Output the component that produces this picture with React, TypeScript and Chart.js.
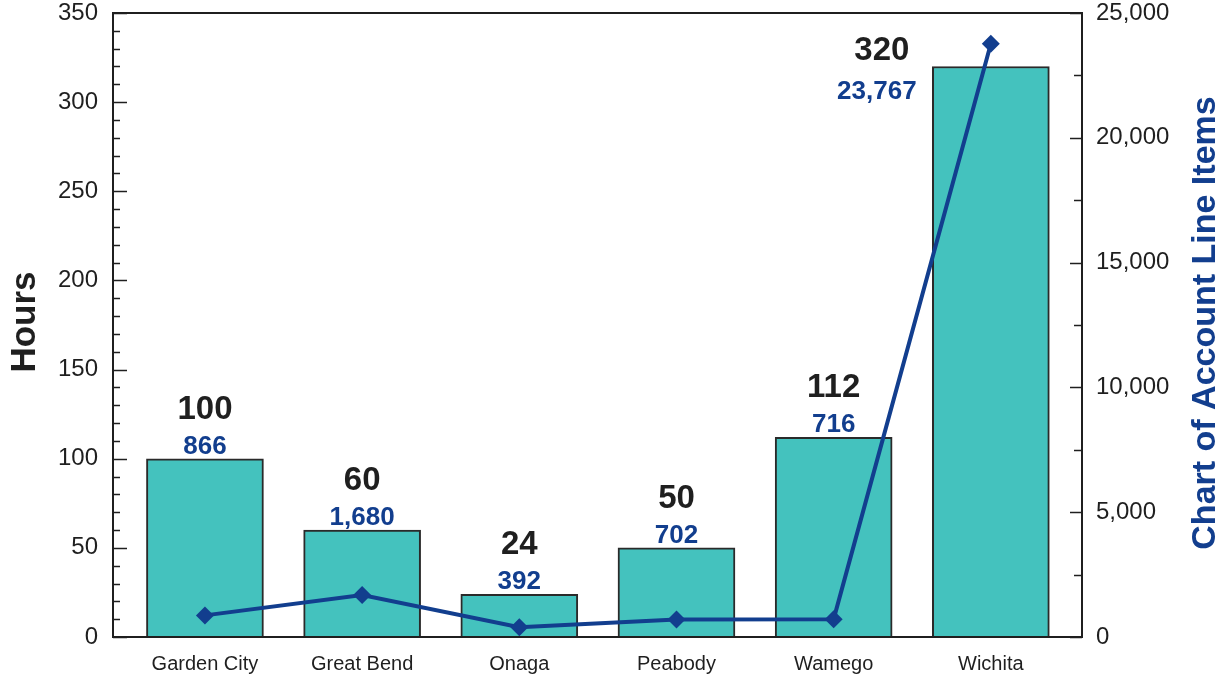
import React, { useEffect, useRef } from 'react';
import { Chart, registerables } from 'chart.js';

Chart.register(...registerables);

const categories = ['Garden City', 'Great Bend', 'Onaga', 'Peabody', 'Wamego', 'Wichita'];
const hours = [100, 60, 24, 50, 112, 320];
const lineItems = [866, 1680, 392, 702, 716, 23767];
const hoursTickValues = [0, 50, 100, 150, 200, 250, 300, 350];
const itemsTickValues = [0, 5000, 10000, 15000, 20000, 25000];
const leftTitle = 'Hours';
const rightTitle = 'Chart of Account Line Items';

const NAVY = '#123e8e';
const TEAL = '#44c2be';
const INK = '#1f1f1f';
const FONT = "'Liberation Sans', Arial, Helvetica, sans-serif";

const decorPlugin = {
  id: 'decor',
  afterDatasetsDraw(chart: any) {
    const ctx = chart.ctx;
    const area = chart.chartArea;
    const meta = chart.getDatasetMeta(1);
    ctx.save();
    ctx.textAlign = 'center';
    ctx.textBaseline = 'middle';
    meta.data.forEach((bar: any, i: number) => {
      const bx = bar.x;
      const by = bar.y;
      let hx = bx, hy = by - 49, lx = bx, ly = by - 12;
      if (hy < area.top + 25) {
        hx = bx - 109; hy = by - 16;
        lx = bx - 114; ly = by + 25;
      }
      ctx.fillStyle = INK;
      ctx.font = `bold 33px ${FONT}`;
      ctx.fillText(String(hours[i]), hx, hy);
      ctx.fillStyle = NAVY;
      ctx.font = `bold 26px ${FONT}`;
      ctx.fillText(lineItems[i].toLocaleString('en-US'), lx, ly);
    });
    ctx.restore();
  },
  afterDraw(chart: any) {
    const ctx = chart.ctx;
    const area = chart.chartArea;
    const y = chart.scales.y;
    const y1 = chart.scales.y1;
    ctx.save();
    ctx.strokeStyle = INK;
    ctx.lineWidth = 2;
    ctx.strokeRect(area.left, area.top, area.right - area.left, area.bottom - area.top);
    ctx.lineWidth = 1.5;
    for (let v = y.min; v <= y.max; v += 10) {
      const py = Math.round(y.getPixelForValue(v)) + 0.5;
      const len = v % 50 === 0 ? 14 : 7;
      ctx.beginPath();
      ctx.moveTo(area.left, py);
      ctx.lineTo(area.left + len, py);
      ctx.stroke();
    }
    for (let v = y1.min; v <= y1.max; v += 2500) {
      const py = Math.round(y1.getPixelForValue(v)) + 0.5;
      const len = v % 5000 === 0 ? 12 : 8;
      ctx.beginPath();
      ctx.moveTo(area.right, py);
      ctx.lineTo(area.right - len, py);
      ctx.stroke();
    }
    const midY = (area.top + area.bottom) / 2;
    ctx.textAlign = 'center';
    ctx.textBaseline = 'middle';
    ctx.font = `bold 35px ${FONT}`;
    ctx.fillStyle = INK;
    ctx.save();
    ctx.translate(25, midY - 3);
    ctx.rotate(-Math.PI / 2);
    ctx.fillText(leftTitle, 0, 0);
    ctx.restore();
    ctx.font = `bold 34px ${FONT}`;
    ctx.fillStyle = NAVY;
    ctx.save();
    ctx.translate(1206, midY - 2);
    ctx.rotate(-Math.PI / 2);
    ctx.fillText(rightTitle, 0, 0);
    ctx.restore();
    ctx.restore();
  },
};

export default function App() {
  const canvasRef = useRef<HTMLCanvasElement | null>(null);

  useEffect(() => {
    if (!canvasRef.current) return;
    const chart = new Chart(canvasRef.current, {
      type: 'bar',
      data: {
        datasets: [
          {
            type: 'line',
            label: rightTitle,
            data: lineItems.map((v, i) => ({ x: i, y: v })),
            yAxisID: 'y1',
            borderColor: NAVY,
            backgroundColor: NAVY,
            borderWidth: 4,
            pointStyle: 'rectRot',
            pointRadius: 9,
            pointBorderWidth: 0,
            tension: 0,
            order: 0,
          } as any,
          {
            type: 'bar',
            label: leftTitle,
            data: hours.map((v, i) => ({ x: i, y: v })),
            yAxisID: 'y',
            backgroundColor: TEAL,
            borderColor: '#2a2a2a',
            borderWidth: 2,
            barThickness: 117,
            order: 1,
          } as any,
        ],
      },
      options: {
        responsive: false,
        animation: false,
        layout: { padding: { top: 13, left: 0, right: 0, bottom: 0 } },
        plugins: { legend: { display: false }, tooltip: { enabled: false } },
        scales: {
          x: {
            type: 'linear',
            min: -0.585,
            max: 5.58,
            offset: false,
            grid: { display: false, drawTicks: false, offset: false },
            border: { display: false },
            afterBuildTicks: (scale: any) => {
              scale.ticks = categories.map((_, i) => ({ value: i }));
            },
            afterFit: (scale: any) => {
              scale.height = 40;
              scale.paddingLeft = 0;
              scale.paddingRight = 0;
            },
            ticks: {
              autoSkip: false,
              maxRotation: 0,
              padding: 15,
              color: INK,
              font: { family: FONT, size: 20 },
              callback: (v: any) => categories[v] ?? '',
            },
          },
          y: {
            type: 'linear',
            position: 'left',
            min: hoursTickValues[0],
            max: hoursTickValues[hoursTickValues.length - 1],
            grid: { display: false, drawTicks: false },
            border: { display: false },
            afterBuildTicks: (scale: any) => {
              scale.ticks = hoursTickValues.map((v) => ({ value: v }));
            },
            afterFit: (scale: any) => {
              scale.width = 113;
              scale.paddingTop = 0;
              scale.paddingBottom = 0;
            },
            ticks: {
              padding: 15,
              color: INK,
              font: { family: FONT, size: 24, lineHeight: 1 },
            },
          },
          y1: {
            type: 'linear',
            position: 'right',
            min: itemsTickValues[0],
            max: itemsTickValues[itemsTickValues.length - 1],
            grid: { display: false, drawTicks: false },
            border: { display: false },
            afterBuildTicks: (scale: any) => {
              scale.ticks = itemsTickValues.map((v) => ({ value: v }));
            },
            afterFit: (scale: any) => {
              scale.width = 141;
              scale.paddingTop = 0;
              scale.paddingBottom = 0;
            },
            ticks: {
              padding: 14,
              color: INK,
              font: { family: FONT, size: 24, lineHeight: 1 },
              callback: (v: any) => Number(v).toLocaleString('en-US'),
            },
          },
        },
      } as any,
      plugins: [decorPlugin],
    });
    return () => chart.destroy();
  }, []);

  return (
    <div style={{ position: 'fixed', left: 0, top: 0, width: 1223, height: 677, background: '#fff' }}>
      <canvas ref={canvasRef} width={1223} height={677} style={{ display: 'block' }} />
    </div>
  );
}
